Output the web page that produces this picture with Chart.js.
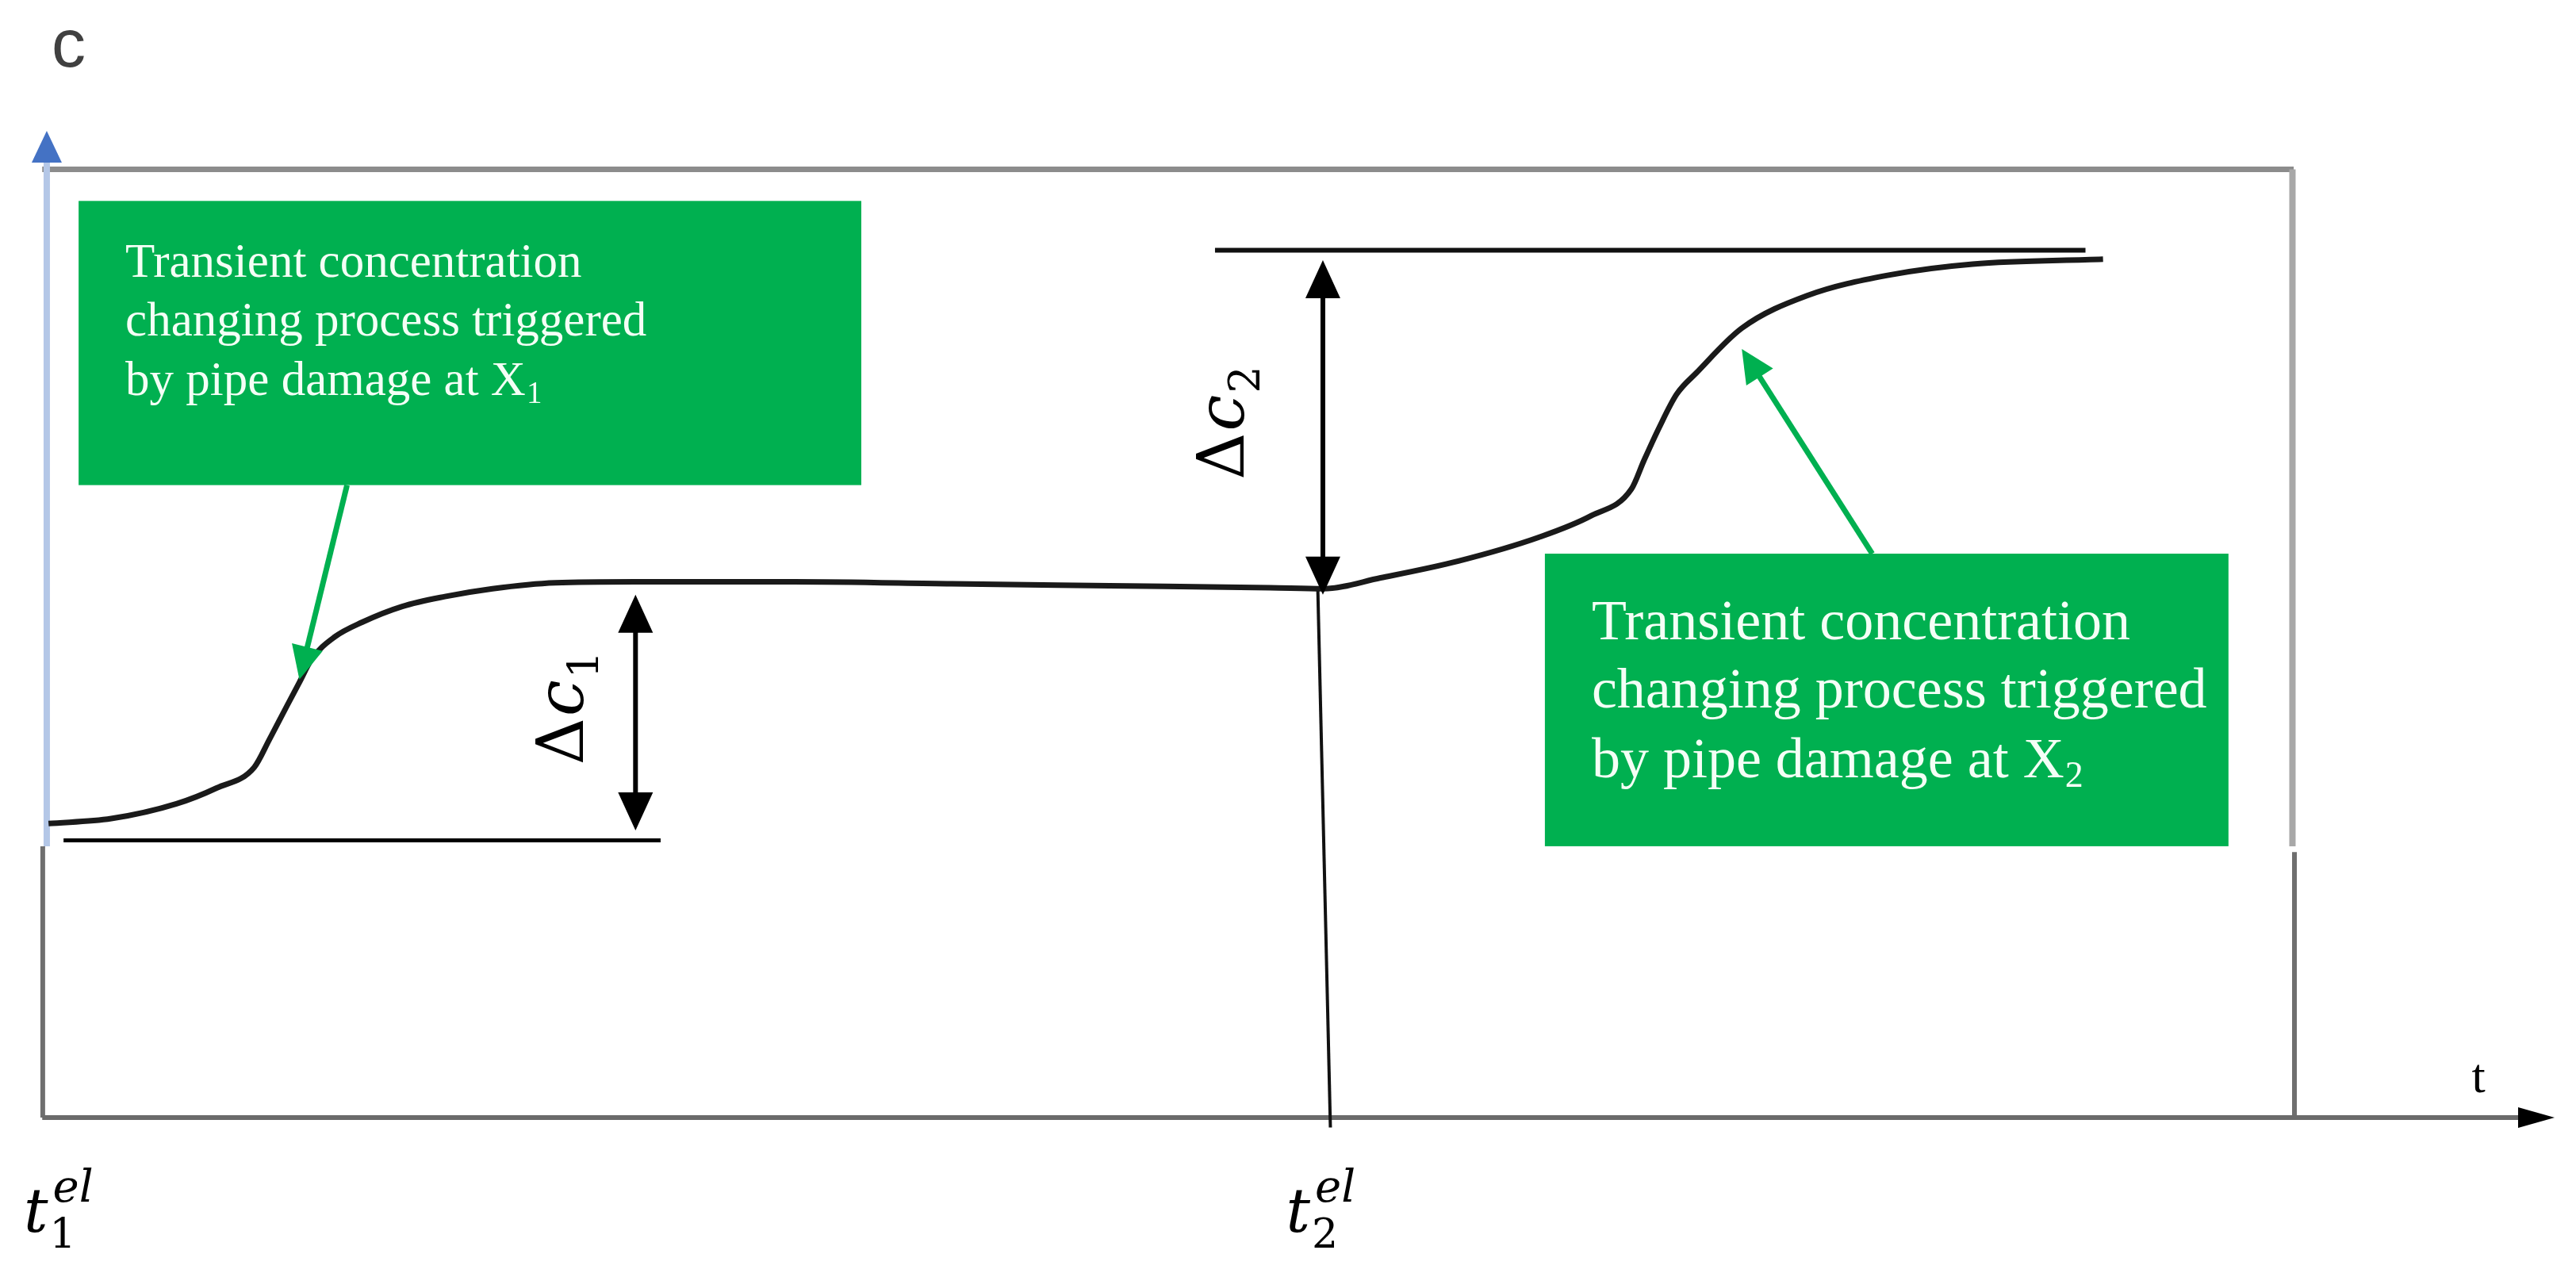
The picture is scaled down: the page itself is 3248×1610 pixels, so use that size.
<!DOCTYPE html>
<html>
<head>
<meta charset="utf-8">
<script src="https://cdn.jsdelivr.net/npm/chart.js@4.4.0/dist/chart.umd.min.js"></script>
<style>
  body { margin: 0; background: #ffffff; }
  canvas { display: block; }
</style>
</head>
<body>
<canvas id="myChart" width="3248" height="1610"></canvas>
<script>
// concentration curve c(t) (arbitrary units, t 0..100, c 0..100)
const curveT = [0.1, 2.6, 5.2, 6.8, 8.3, 8.9, 9.6, 10.1, 10.6, 11.5, 12.6, 14.2, 15.9, 17.8, 20.3, 23.5,
  29.8, 36.1, 42.4, 48.8, 50.9, 53.2, 56.3, 59.5, 61.6, 63.2, 63.7, 64.3, 65.0, 65.8, 67.6, 70.2, 73.5, 76.8, 82.0];
const curveC = [29.8, 30.3, 31.8, 33.4, 35.5, 38.3, 41.7, 44.1, 46.5, 48.7, 50.2, 51.8, 52.8, 53.6, 54.2, 54.3,
  54.3, 54.1, 53.9, 53.7, 53.6, 54.7, 56.4, 58.8, 61.0, 63.7, 66.6, 69.9, 73.3, 75.5, 80.0, 83.3, 85.4, 86.5, 87.0];

// reference levels for the two concentration jumps
const baseLine = { t: [0.7, 24.5], c: 28.1 };
const topLine = { t: [46.6, 81.3], c: 87.9 };
const deltaT = [23.5, 50.9];            // where the double arrows stand
const deltaLow = [29.1, 53.0];
const deltaHigh = [53.0, 86.9];
const deltaLabels = ['1', '2'];

// event times t_1^el, t_2^el
const tEl = [0, 51.2];
const tElLabels = ['1', '2'];

// callout boxes (t0, t1, c0, c1) and what they point to
const boxT = [[1.3, 32.5], [59.75, 87.0]];
const boxC = [[64.1, 92.9], [27.5, 57.15]];
const boxText = ['Transient concentration', 'changing process triggered', 'by pipe damage at X'];
const boxSub = ['1', '2'];
const pointerFrom = [[12.0, 64.1], [72.8, 57.15]];
const pointerTo = [[10.1, 44.4], [67.6, 77.9]];

// frame of the original drawing
const frameTop = 96.1;
const frameRight = 89.6;
const frameGap = [26.9, 27.5];

const GREEN = '#00b050';

function P(chart, t, c) {
  return [chart.scales.x.getPixelForValue(t), chart.scales.y.getPixelForValue(c)];
}

function seg(ctx, a, b, color, w) {
  ctx.beginPath();
  ctx.moveTo(a[0], a[1]);
  ctx.lineTo(b[0], b[1]);
  ctx.strokeStyle = color;
  ctx.lineWidth = w;
  ctx.stroke();
}

function head(ctx, tip, from, len, wid, color) {
  const ang = Math.atan2(tip[1] - from[1], tip[0] - from[0]);
  ctx.save();
  ctx.translate(tip[0], tip[1]);
  ctx.rotate(ang);
  ctx.beginPath();
  ctx.moveTo(0, 0);
  ctx.lineTo(-len, -wid / 2);
  ctx.lineTo(-len, wid / 2);
  ctx.closePath();
  ctx.fillStyle = color;
  ctx.fill();
  ctx.restore();
}

// line with arrowhead(s), the shaft stops at the head base
function arrow(ctx, a, b, color, w, len, wid, both) {
  const d = Math.hypot(b[0] - a[0], b[1] - a[1]);
  const ux = (b[0] - a[0]) / d, uy = (b[1] - a[1]) / d;
  const s = both ? [a[0] + ux * len * 0.8, a[1] + uy * len * 0.8] : a;
  const e = [b[0] - ux * len * 0.8, b[1] - uy * len * 0.8];
  seg(ctx, s, e, color, w);
  head(ctx, b, a, len, wid, color);
  if (both) head(ctx, a, b, len, wid, color);
}

// text size differs between the two callouts
const boxFont = [61, 72];
const boxLines = [[96, 170, 245], [108, 194, 282]];

const schematic = {
  id: 'schematic',
  beforeDatasetsDraw(chart) {
    const ctx = chart.ctx;
    ctx.save();
    ctx.lineCap = 'butt';
    // frame lines
    seg(ctx, P(chart, -0.15, frameTop), P(chart, frameRight, frameTop), '#8c8c8c', 7);
    seg(ctx, P(chart, frameRight - 0.05, frameTop), P(chart, frameRight - 0.05, frameGap[1]), '#a8a8a8', 8);
    seg(ctx, P(chart, frameRight + 0.03, frameGap[0]), P(chart, frameRight + 0.03, 0), '#6f6f6f', 6);
    seg(ctx, P(chart, -0.13, 0), P(chart, -0.13, frameGap[1]), '#6f6f6f', 6);
    // c axis (blue) with arrow
    const yTip = P(chart, 0.03, 100);
    seg(ctx, P(chart, 0.03, frameGap[1]), [yTip[0], yTip[1] + 36], '#b4c7e7', 8);
    head(ctx, yTip, [yTip[0], yTip[1] + 100], 40, 38, '#4472c4');
    // t axis
    const xTip = P(chart, 100, 0);
    seg(ctx, P(chart, -0.15, 0), [xTip[0] - 40, xTip[1]], '#6b6b6b', 6);
    head(ctx, xTip, [xTip[0] - 100, xTip[1]], 46, 26, '#000000');

    // callout boxes
    ctx.textBaseline = 'alphabetic';
    for (let i = 0; i < boxT.length; i++) {
      const p0 = P(chart, boxT[i][0], boxC[i][1]);
      const p1 = P(chart, boxT[i][1], boxC[i][0]);
      ctx.fillStyle = GREEN;
      ctx.fillRect(p0[0], p0[1], p1[0] - p0[0], p1[1] - p0[1]);
      ctx.fillStyle = '#f4fff6';
      const x = p0[0] + 59;
      const fs = boxFont[i];
      boxText.forEach((s, k) => {
        ctx.font = fs + 'px "Liberation Serif"';
        ctx.fillText(s, x, p0[1] + boxLines[i][k]);
        if (k === 2) {
          const w = ctx.measureText(s).width;
          ctx.font = Math.round(fs * 0.64) + 'px "Liberation Serif"';
          ctx.fillText(boxSub[i], x + w + 1, p0[1] + boxLines[i][k] + Math.round(fs / 6));
        }
      });
    }
    ctx.restore();
  },
  afterDatasetsDraw(chart) {
    const ctx = chart.ctx;
    ctx.save();
    // green pointers
    for (let i = 0; i < pointerFrom.length; i++) {
      arrow(ctx, P(chart, pointerFrom[i][0], pointerFrom[i][1]), P(chart, pointerTo[i][0], pointerTo[i][1]),
        GREEN, 7, 42, 40, false);
    }
    // delta c double arrows and labels
    const labelGap = [66, 100];
    for (let i = 0; i < deltaT.length; i++) {
      const lo = P(chart, deltaT[i], deltaLow[i]);
      const hi = P(chart, deltaT[i], deltaHigh[i]);
      arrow(ctx, lo, hi, '#000000', 6, 48, 44, true);
      const mid = (lo[1] + hi[1]) / 2;
      ctx.save();
      ctx.translate(lo[0] - labelGap[i], mid + 66);
      ctx.rotate(-Math.PI / 2);
      ctx.fillStyle = '#000000';
      ctx.font = '82px "DejaVu Serif"';
      ctx.fillText('\u0394', 0, 0);
      let w = ctx.measureText('\u0394').width;
      ctx.font = 'italic 82px "DejaVu Serif"';
      ctx.fillText('c', w + 2, 0);
      w += ctx.measureText('c').width + 4;
      ctx.font = '54px "DejaVu Serif"';
      ctx.fillText(deltaLabels[i], w, 20);
      ctx.restore();
    }
    // axis names
    ctx.fillStyle = '#404040';
    ctx.font = '86px "Liberation Sans"';
    const cPos = P(chart, 0.22, 106.5);
    ctx.fillText('c', cPos[0], cPos[1]);
    ctx.fillStyle = '#000000';
    ctx.font = '62px "Liberation Serif"';
    const tPos = P(chart, 96.7, 2.6);
    ctx.fillText('t', tPos[0], tPos[1]);
    // t_i^el labels
    for (let i = 0; i < tEl.length; i++) {
      const p = P(chart, tEl[i], 0);
      const x = p[0] - 28 + (i === 1 ? -28 : 0);
      const y = p[1] + 144;
      ctx.font = 'italic 76px "DejaVu Serif"';
      ctx.fillText('t', x, y);
      const w = ctx.measureText('t').width;
      ctx.font = 'italic 56px "DejaVu Serif"';
      ctx.fillText('el', x + w + 6, y - 38);
      ctx.font = '52px "DejaVu Serif"';
      ctx.fillText(tElLabels[i], x + w + 2, y + 20);
    }
    ctx.restore();
  }
};

function lineSet(pts, color, w) {
  return {
    data: pts, showLine: true, borderColor: color, borderWidth: w,
    pointRadius: 0, clip: false, fill: false
  };
}

const ctx = document.getElementById('myChart').getContext('2d');
const myChart = new Chart(ctx, {
  type: 'scatter',
  data: {
    datasets: [
      Object.assign(lineSet(curveT.map((t, i) => ({ x: t, y: curveC[i] })), '#1a1a1a', 7),
        { cubicInterpolationMode: 'monotone' }),
      lineSet([{ x: baseLine.t[0], y: baseLine.c }, { x: baseLine.t[1], y: baseLine.c }], '#000000', 5),
      lineSet([{ x: topLine.t[0], y: topLine.c }, { x: topLine.t[1], y: topLine.c }], '#111111', 6),
      // marker from the curve down to t_2^el
      lineSet([{ x: tEl[1] - 0.5, y: 53.4 }, { x: tEl[1], y: -1.0 }], '#111111', 4)
    ]
  },
  options: {
    responsive: false,
    devicePixelRatio: 1,
    animation: false,
    layout: { padding: { left: 58, right: 27, top: 165, bottom: 201 } },
    plugins: { legend: { display: false }, tooltip: { enabled: false } },
    scales: {
      x: { type: 'linear', min: 0, max: 100, display: false },
      y: { type: 'linear', min: 0, max: 100, display: false }
    }
  },
  plugins: [schematic]
});
</script>
</body>
</html>
